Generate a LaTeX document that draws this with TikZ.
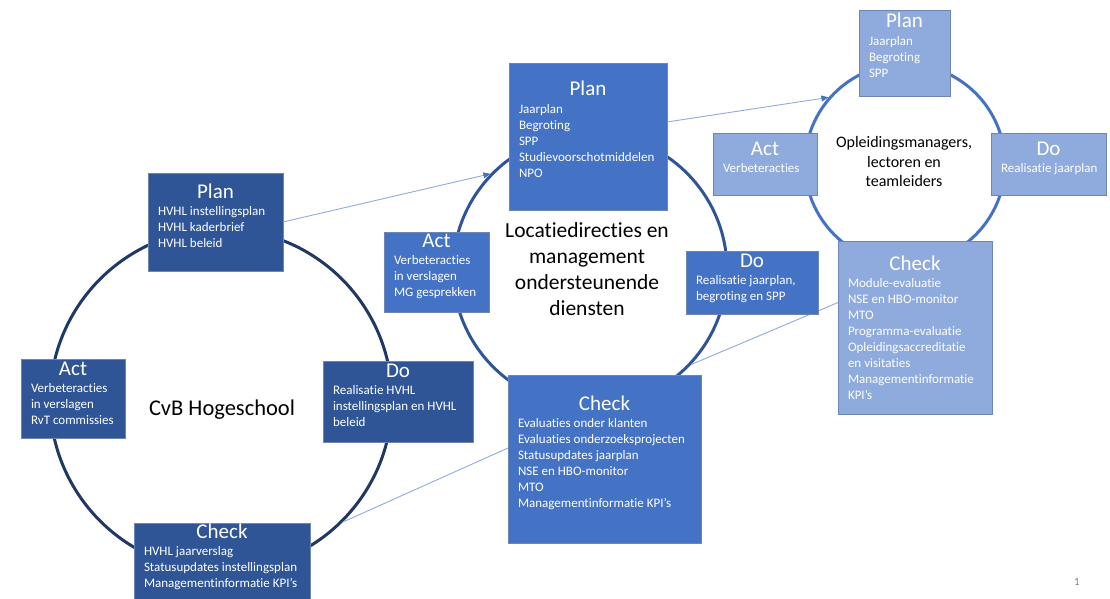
\documentclass[tikz,border=0pt]{standalone}
\usepackage{fontspec}
\setmainfont{Carlito}[Ligatures=NoCommon]
\usepackage{tikz}
\usetikzlibrary{arrows.meta}
\usetikzlibrary{positioning}

\definecolor{navy}{HTML}{203864}
\definecolor{donker}{HTML}{2F5597}
\definecolor{midden}{HTML}{4472C4}
\definecolor{licht}{HTML}{8FAADC}
\definecolor{rand}{HTML}{6E86B4}

\newcommand\titelfont{\fontsize{21}{24}\selectfont}
\newcommand\itemfont{\fontsize{13}{16}\selectfont}
% inhoud van een PDCA-vak: breedte, hoogte, basislijn titel, titel, regels
\newcommand\Vak[5]{%
  \parbox[c][#2pt][t]{#1pt}{%
    {\centering\rule{0pt}{#3pt}\titelfont #4\par}%
    \vspace{1.5pt}%
    {\raggedright\leftskip=10pt\itemfont #5\par}}%
}

\tikzset{%
  cirkel/.style={circle,inner sep=0pt,line width=3pt},
  vak/.style={rectangle,inner sep=0pt,outer sep=0pt,anchor=north west,
    text=white,draw=rand,line width=0.7pt},
  vakL/.style={vak,fill=donker},
  vakM/.style={vak,fill=midden},
  vakR/.style={vak,fill=licht},
  verbinding/.style={draw=licht,line width=0.9pt},
  pijl/.style={verbinding,-{Triangle[length=7pt,width=6pt,color=midden]}}
}

\begin{document}
\begin{tikzpicture}[x=1pt,y=-1pt]
\useasboundingbox (0,0) rectangle (1110,599);

% de drie cirkels
\node[cirkel,draw=navy,minimum size=342] (cvb) at (221,400) {};
\node[cirkel,draw=donker,minimum size=274] (loc) at (590,270) {};
\node[cirkel,draw=midden,minimum size=200] (opl) at (905,164) {};

\node[anchor=base,font=\fontsize{22.5}{27}\selectfont] (cvbtekst) at (222,415) {CvB Hogeschool};
\node[align=center,font=\fontsize{21.5}{26}\selectfont] (loctekst) at (587,269) {Locatiedirecties en\\management\\ondersteunende\\diensten};
\node[align=center,font=\fontsize{16}{19.5}\selectfont] (opltekst) at (904,162) {Opleidingsmanagers,\\lectoren en\\teamleiders};

% CvB
\node[vakL] (lplan) at (148,173) {\Vak{135}{98}{25}{Plan}{HVHL instellingsplan\\HVHL kaderbrief\\HVHL beleid}};
\node[vakL] (lact) at (21,359) {\Vak{104}{79}{16}{Act}{Verbeteracties\\in verslagen\\RvT commissies}};
\node[vakL] (ldo) at (323,361) {\Vak{150}{81}{16}{Do}{Realisatie HVHL\\instellingsplan en HVHL\\beleid}};
\node[vakL] (lcheck) at (134,523) {\Vak{176}{82}{15}{Check}{HVHL jaarverslag\\Statusupdates instellingsplan\\Managementinformatie KPI’s}};

% locatiedirecties
\node[vakM] (mplan) at (509,63) {\Vak{158}{147}{33}{Plan}{Jaarplan\\Begroting\\SPP\\Studievoorschotmiddelen\\NPO}};
\node[vakM] (mact) at (384,232) {\Vak{105}{80}{15}{Act}{Verbeteracties\\in verslagen\\MG gesprekken}};
\node[vakM] (mcheck) at (508,375) {\Vak{193}{168}{35}{Check}{Evaluaties onder klanten\\Evaluaties onderzoeksprojecten\\Statusupdates jaarplan\\NSE en HBO-monitor\\MTO\\Managementinformatie KPI’s}};

% opleidingen
\node[vakR] (rplan) at (859,10) {\Vak{91}{86}{18}{Plan}{Jaarplan\\Begroting\\SPP}};
\node[vakR] (ract) at (713,133) {\Vak{104}{62}{22}{Act}{Verbeteracties}};
\node[vakR] (rdo) at (991,133) {\Vak{115}{62}{22}{Do}{Realisatie jaarplan}};
\node[vakR] (rcheck) at (838,241) {\Vak{154}{173}{29}{Check}{Module-evaluatie\\NSE en HBO-monitor\\MTO\\Programma-evaluatie\\Opleidingsaccreditatie\\en visitaties\\Managementinformatie\\KPI’s}};

% verbindingen tussen de niveaus
\draw[pijl] (lplan.east) -- (loc.136);
\draw[verbinding] ([yshift=11pt]mcheck.west) -- (cvb.-45);
\draw[pijl] ([yshift=14.5pt]mplan.east) -- (opl.139);
\draw[verbinding] ([yshift=25pt]rcheck.west) -- (loc.-43.5);

% Do-vak over de verbinding
\node[vakM] (mdo) at (686,251) {\Vak{132}{63}{16}{Do}{Realisatie jaarplan,\\begroting en SPP}};

\node[anchor=base,text=gray,font=\fontsize{11}{13}\selectfont] (dianr) at (1077,585) {1};
\end{tikzpicture}
\end{document}
